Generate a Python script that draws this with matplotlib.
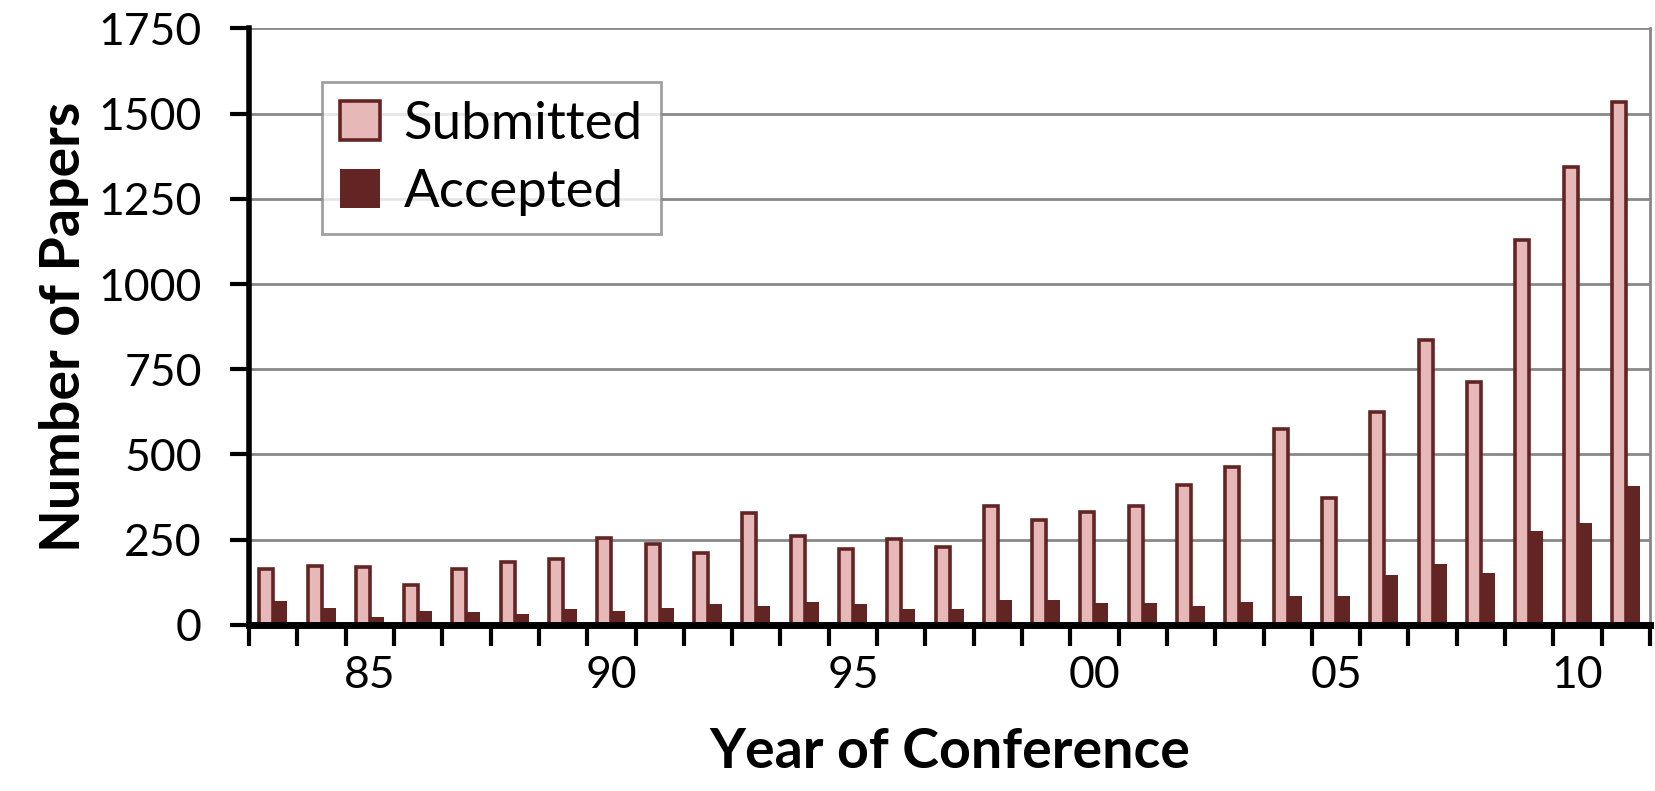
import matplotlib
matplotlib.use('Agg')
import matplotlib.pyplot as plt
import numpy as np

# conference years 1983 - 2011
years = list(range(1983, 2012))
submitted = [165, 173, 170, 118, 165, 185, 194, 256, 238, 212, 327, 261, 224, 251, 230,
             348, 307, 330, 348, 411, 462, 574, 371, 624, 836, 713, 1128, 1345, 1533]
accepted = [70, 51, 24, 41, 38, 33, 46, 41, 51, 61, 55, 66, 61, 46, 48,
            73, 73, 65, 65, 55, 68, 85, 85, 146, 178, 152, 276, 298, 408]
label_years = [1985, 1990, 1995, 2000, 2005, 2010]
y_ticks = [0, 250, 500, 750, 1000, 1250, 1500, 1750]

light = '#E6B9B8'
dark = '#632523'
grid_col = '#888888'

plt.rcParams['font.family'] = ['Lato', 'DejaVu Sans']

fig = plt.figure(figsize=(16.55, 7.91), dpi=100)
ax = fig.add_axes([0.1505, 0.21, 0.8465, 0.754])

x = np.arange(len(years))
w = 0.29
ax.bar(x - w / 2, submitted, w, color=light, edgecolor=dark, linewidth=2.6, label='Submitted', zorder=3)
ax.bar(x + w / 2, accepted, w, color=dark, edgecolor=dark, linewidth=0, label='Accepted', zorder=4)

ax.set_xlim(-0.5, len(years) - 0.5)
ax.set_ylim(0, 1750)
ax.set_yticks(y_ticks)
ax.set_yticklabels([str(v) for v in y_ticks])

# labels in the middle of the year groups, tick marks on the group edges
ax.set_xticks([years.index(y) for y in label_years])
ax.set_xticklabels(['{:02d}'.format(y % 100) for y in label_years])
ax.set_xticks(np.arange(-0.5, len(years)), minor=True)
ax.tick_params(axis='x', which='major', length=0, pad=22, labelsize=32)
ax.tick_params(axis='x', which='minor', length=15, width=3, color='black', direction='out')
ax.tick_params(axis='y', which='major', length=14, width=3, color='black', labelsize=32, pad=20)

ax.yaxis.grid(True, color=grid_col, linewidth=2, zorder=0)
ax.set_axisbelow(True)

ax.spines['left'].set_linewidth(4)
ax.spines['left'].set_color('black')
ax.spines['bottom'].set_linewidth(5)
ax.spines['bottom'].set_color('black')
ax.spines['bottom'].set_zorder(5)
ax.spines['right'].set_color(grid_col)
ax.spines['right'].set_linewidth(2)
ax.spines['top'].set_visible(False)

ax.set_ylabel('Number of Papers', fontsize=40, fontweight='bold', labelpad=7)
ax.set_xlabel('Year of Conference', fontsize=40, fontweight='bold', labelpad=22)

leg = ax.legend(loc='upper left', bbox_to_anchor=(0.052, 0.91), borderaxespad=0,
                fontsize=38, fancybox=False, frameon=True, handlelength=0.75, handleheight=0.75,
                handletextpad=0.45, labelspacing=0.4, borderpad=0.35)
leg.get_frame().set_edgecolor(grid_col)
leg.get_frame().set_linewidth(2)

plt.savefig('out.png', dpi=100)
